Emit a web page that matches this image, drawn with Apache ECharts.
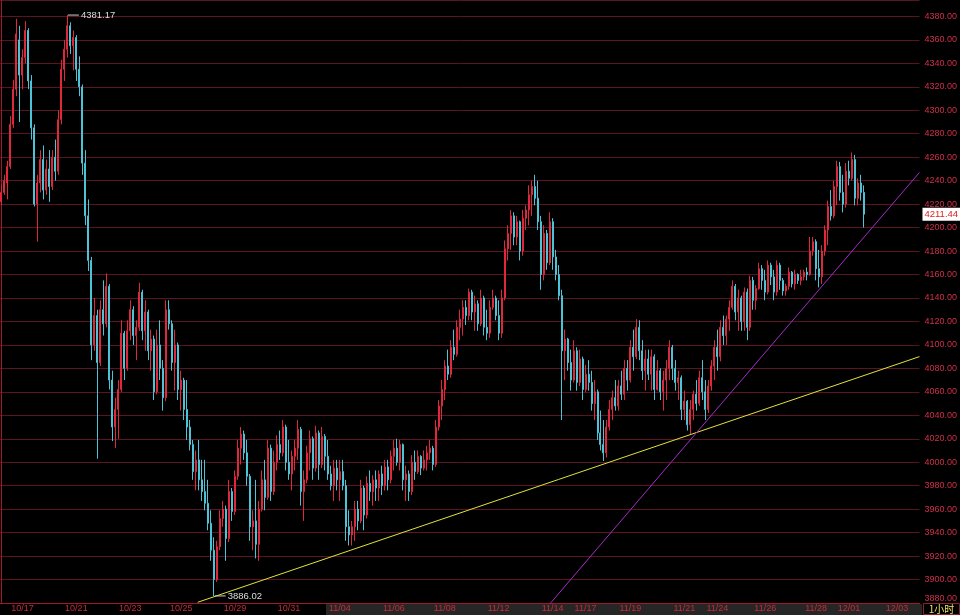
<!DOCTYPE html>
<html><head><meta charset="utf-8">
<script src="https://cdn.jsdelivr.net/npm/echarts@6/dist/echarts.min.js"></script>
<style>html,body{margin:0;padding:0;background:#000;}#c{width:960px;height:615px;}</style>
</head><body><div id="c"></div>
<script>
// hourly bars: open / high / low / close
const opens = [
4222,4230,4238,4252,4288,4318,4360,4330,4345,4368,
4325,4285,4220,4238,4258,4232,4250,4235,4260,4248,
4292,4335,4352,4372,4355,4362,4335,4320,4255,4210,
4172,4100,4125,4085,4130,4118,4150,4070,4030,4045,
4062,4110,4080,4112,4130,4108,4115,4145,4112,4128,
4095,4105,4060,4100,4080,4055,4130,4118,4085,4100,
4062,4070,4045,4030,4015,3992,4002,3985,3975,3965,
3948,3925,3900,3928,3952,3960,3935,3975,3958,3988,
4012,4024,4008,3988,3945,3950,3930,3960,3985,3970,
4012,3975,4000,4015,4008,4030,4000,3990,4005,4012,
4028,3975,3985,4008,4020,3995,4025,3998,4022,4005,
3990,3980,3995,3985,3992,3980,3945,3938,3945,3960,
3950,3978,3955,3982,3975,3985,3978,3990,3980,3996,
3985,4005,4012,4000,4015,3985,3990,3975,4000,3992,
4005,3995,4002,4008,4012,3998,4030,4048,4062,4082,
4075,4098,4092,4115,4122,4132,4125,4145,4128,4135,
4118,4140,4115,4110,4132,4140,4125,4110,4140,4182,
4195,4210,4192,4205,4180,4208,4215,4228,4235,4225,
4205,4160,4195,4170,4205,4175,4160,4142,4095,4105,
4085,4070,4095,4068,4088,4062,4075,4068,4050,4060,
4025,4015,4008,4030,4045,4055,4048,4065,4058,4080,
4070,4098,4090,4115,4095,4078,4088,4075,4090,4062,
4078,4060,4070,4080,4098,4080,4068,4072,4045,4052,
4032,4045,4058,4050,4072,4060,4045,4065,4082,4098,
4090,4115,4108,4122,4132,4150,4128,4140,4120,4145,
4115,4155,4138,4148,4165,4155,4145,4168,4158,4145,
4168,4155,4146,4150,4162,4152,4160,4155,4158,4162,
4160,4180,4188,4165,4158,4180,4198,4218,4210,4235,
4252,4230,4220,4248,4242,4258,4225,4238,4230
];
const highs = [
4236,4245,4257,4295,4326,4378,4372,4352,4376,4370,
4330,4288,4245,4266,4270,4258,4266,4266,4275,4300,
4343,4360,4381.17,4375,4368,4364,4346,4322,4266,4224,
4175,4140,4130,4138,4155,4161,4152,4078,4055,4070,
4121,4112,4121,4138,4133,4121,4153,4147,4138,4130,
4113,4108,4113,4121,4087,4138,4138,4121,4113,4102,
4078,4072,4070,4036,4019,4010,4019,4002,4002,3985,
3959,3936,3933,3959,3967,3963,3985,3978,3993,4019,
4030,4027,4019,3990,3959,3985,3967,3993,4002,4019,
4015,4010,4023,4027,4036,4032,4019,4010,4019,4036,
4030,3993,4014,4027,4022,4031,4027,4030,4024,4019,
3997,4002,4002,4002,4002,3985,3959,3950,3967,3967,
3985,3980,3988,3993,3989,3993,3993,3997,4002,4002,
4010,4019,4020,4019,4016,3997,3993,4006,4010,4010,
4006,4010,4014,4019,4014,4036,4053,4070,4087,4096,
4104,4113,4121,4130,4138,4138,4148,4147,4142,4138,
4147,4142,4130,4138,4147,4142,4138,4147,4189,4202,
4215,4213,4210,4206,4215,4219,4236,4240,4245,4240,
4210,4202,4198,4213,4208,4181,4168,4147,4113,4106,
4096,4104,4098,4096,4090,4083,4087,4078,4070,4062,
4044,4036,4036,4053,4061,4070,4070,4078,4087,4087,
4104,4113,4122,4121,4104,4096,4096,4096,4092,4087,
4080,4078,4087,4104,4100,4087,4078,4074,4061,4053,
4053,4061,4070,4078,4087,4070,4070,4087,4104,4113,
4121,4125,4125,4138,4155,4152,4147,4142,4149,4148,
4159,4158,4151,4170,4168,4164,4172,4170,4164,4172,
4170,4157,4152,4166,4163,4164,4161,4164,4164,4166,
4192,4192,4190,4181,4185,4202,4223,4232,4240,4257,
4256,4245,4255,4257,4264,4262,4242,4245,4236
];
const lows = [
4219,4228,4224,4250,4285,4312,4290,4318,4340,4318,
4275,4218,4188,4230,4224,4228,4222,4232,4240,4245,
4288,4325,4345,4348,4334,4325,4312,4245,4202,4163,
4087,4095,4003,4082,4108,4115,4062,4018,4012,4020,
4060,4070,4078,4104,4100,4087,4112,4104,4095,4087,
4078,4053,4058,4070,4044,4052,4113,4078,4061,4053,
4044,4036,4019,4010,3985,3976,3976,3967,3959,3942,
3916,3886.02,3898,3925,3945,3916,3932,3950,3955,3985,
3998,4002,3980,3933,3925,3918,3916,3958,3959,3968,
3967,3972,3993,4002,4005,3993,3985,3976,3993,4002,
3963,3950,3982,3993,3985,3992,3985,3995,3993,3985,
3976,3967,3976,3967,3976,3933,3929,3929,3933,3942,
3948,3942,3952,3967,3963,3967,3967,3972,3976,3976,
3982,3993,3997,3993,3976,3967,3967,3972,3985,3990,
3989,3993,3993,4002,3993,3996,4027,4036,4053,4070,
4072,4087,4090,4104,4108,4117,4121,4121,4112,4112,
4116,4108,4104,4106,4130,4121,4104,4106,4138,4172,
4181,4185,4185,4172,4176,4198,4202,4210,4219,4198,
4147,4155,4164,4168,4164,4155,4138,4036,4070,4078,
4061,4068,4061,4065,4053,4060,4061,4044,4036,4019,
4010,4001,4004,4027,4036,4044,4044,4053,4053,4061,
4068,4078,4088,4087,4070,4061,4070,4061,4053,4061,
4053,4044,4053,4070,4070,4061,4053,4036,4036,4027,
4024,4036,4044,4048,4053,4036,4042,4061,4070,4078,
4086,4100,4100,4112,4130,4121,4112,4112,4112,4104,
4112,4130,4130,4147,4147,4138,4143,4151,4138,4142,
4147,4142,4142,4147,4149,4147,4152,4151,4155,4155,
4159,4176,4155,4149,4152,4176,4185,4206,4208,4219,
4223,4213,4217,4236,4240,4219,4219,4223,4200
];
const closes = [
4230,4240,4252,4288,4318,4365,4330,4345,4368,4325,
4285,4220,4238,4258,4232,4250,4235,4260,4248,4292,
4335,4352,4372,4355,4362,4335,4320,4255,4210,4172,
4100,4125,4085,4130,4118,4150,4070,4030,4045,4062,
4110,4080,4112,4130,4108,4115,4145,4112,4128,4095,
4105,4060,4100,4080,4055,4130,4118,4085,4100,4062,
4070,4045,4030,4015,3992,4002,3985,3975,3965,3948,
3925,3900,3928,3952,3960,3935,3975,3958,3988,4012,
4024,4008,3988,3945,3950,3930,3960,3985,3970,4012,
3975,4000,4015,4008,4030,4000,3990,4005,4012,4028,
3975,3985,4008,4020,3995,4025,3998,4022,4005,3990,
3980,3995,3985,3992,3980,3945,3938,3945,3960,3950,
3978,3955,3982,3975,3985,3978,3990,3980,3996,3985,
4005,4012,4000,4015,3985,3990,3975,4000,3992,4005,
3995,4002,4008,4012,3998,4030,4048,4062,4082,4075,
4098,4092,4115,4122,4132,4125,4145,4128,4135,4118,
4140,4115,4110,4132,4140,4125,4110,4140,4182,4195,
4210,4192,4205,4180,4208,4215,4228,4235,4225,4205,
4160,4195,4170,4205,4175,4160,4142,4095,4105,4085,
4070,4095,4068,4088,4062,4075,4068,4050,4060,4025,
4015,4008,4030,4045,4055,4048,4065,4058,4080,4070,
4098,4090,4115,4095,4078,4088,4075,4090,4062,4078,
4060,4070,4080,4098,4080,4068,4072,4045,4052,4032,
4045,4058,4050,4072,4060,4045,4065,4082,4098,4090,
4115,4108,4122,4132,4150,4128,4140,4120,4145,4115,
4155,4138,4148,4165,4155,4145,4168,4158,4145,4168,
4155,4146,4150,4162,4152,4160,4155,4158,4162,4160,
4180,4188,4165,4158,4180,4198,4218,4210,4235,4252,
4230,4220,4248,4242,4258,4225,4238,4230,4211.44
];
// first bar index of each labelled trading day, and its label
const dayStartBars = [7,25,43,60,78,96,113,131,148,166,184,195,210,228,239,255,272,283,299];
const dayLabels = ['10/17','10/21','10/23','10/25','10/29','10/31','11/04','11/06','11/08','11/12','11/14','11/17','11/19','11/21','11/24','11/26','11/28','12/01','12/03'];
const totalSlots = 307;
// trend lines as [bar index, price]
const yellowTrend = [[65.5, 3880.6], [306.5, 4090]];
const purpleTrend = [[183, 3879], [306.5, 4247]];
const yMin = 3880, yMax = 4394, yStep = 20;

const labelMap = {};
dayStartBars.forEach((b, k) => { labelMap[b] = dayLabels[k]; });
const categories = [];
for (let i = 0; i < totalSlots; i++) categories.push(String(i));
const candles = opens.map((o, i) => [o, closes[i], lows[i], highs[i]]);
const lastClose = closes[closes.length - 1];

const RED = '#e0283c', CYAN = '#4cc4d8';
const FONT = 'Liberation Sans, Arial, sans-serif';
const chart = echarts.init(document.getElementById('c'), null, {renderer: 'canvas'});
chart.setOption({
  backgroundColor: '#000',
  animation: false,
  grid: {left: 0, right: 38, top: 0, bottom: 12},
  xAxis: [{
    type: 'category', data: categories, boundaryGap: true,
    axisLine: {lineStyle: {color: '#a3182e', width: 1}},
    axisTick: {show: false},
    splitLine: {show: false},
    axisLabel: {
      color: '#c62c3a', fontSize: 9, fontFamily: FONT, margin: 1,
      interval: (idx) => labelMap[idx] !== undefined,
      formatter: (v, idx) => labelMap[idx] || ''
    }
  }, {
    type: 'value', min: -0.5, max: totalSlots - 0.5, show: false
  }],
  yAxis: {
    type: 'value', position: 'right', min: yMin, max: yMax, interval: yStep, scale: true,
    axisLine: {show: true, lineStyle: {color: '#a3182e'}},
    axisTick: {show: false},
    splitLine: {lineStyle: {color: '#5a1422', width: 1}},
    axisLabel: {
      color: '#d0304a', fontSize: 9, fontFamily: FONT, margin: 5,
      showMaxLabel: false, verticalAlignMinLabel: 'bottom',
      formatter: v => v.toFixed(2)
    }
  },
  series: [{
    type: 'candlestick', data: candles, barWidth: 1.5,
    itemStyle: {color: RED, color0: CYAN, borderColor: RED, borderColor0: CYAN, borderWidth: 1},
    markPoint: {
      symbol: 'rect', symbolSize: [11, 1], symbolOffset: [6, 0], silent: true,
      itemStyle: {color: '#cfcfcf'},
      label: {show: true, position: 'right', distance: 2, color: '#dddddd', fontSize: 9.5,
        fontFamily: FONT, formatter: p => Number(p.value).toFixed(2)},
      data: [{type: 'max', valueDim: 'highest'}, {type: 'min', valueDim: 'lowest'}]
    },
    markLine: {
      symbol: 'none', silent: true,
      lineStyle: {color: 'rgba(0,0,0,0)', width: 0, type: 'solid'},
      label: {show: true, position: 'end', distance: 3, color: '#e02020', backgroundColor: '#ffffff',
        padding: [2, 2, 1, 2], fontSize: 9.5, fontFamily: FONT,
        formatter: p => Number(p.value).toFixed(2)},
      emphasis: {disabled: true},
      data: [{yAxis: lastClose}]
    }
  }, {
    type: 'line', xAxisIndex: 1, data: yellowTrend, symbol: 'none', silent: true,
    lineStyle: {color: '#e2e23c', width: 1}
  }, {
    type: 'line', xAxisIndex: 1, data: purpleTrend, symbol: 'none', silent: true,
    lineStyle: {color: '#a52cc8', width: 1}
  }],
  graphic: [
    {type: 'rect', z: -10, shape: {x: 326, y: 604, width: 596, height: 11}, style: {fill: '#262626'}},
    {type: 'rect', z: 10, shape: {x: 923.5, y: 603.5, width: 36, height: 11}, style: {fill: '#000', stroke: '#8a2030', lineWidth: 1}},
    {type: 'text', z: 11, x: 941.5, y: 609.5, style: {text: '1小时', fill: '#f0e060', fontSize: 10,
      fontFamily: 'Noto Sans CJK SC, sans-serif', align: 'center', verticalAlign: 'middle'}}
  ]
});
</script>
</body></html>
